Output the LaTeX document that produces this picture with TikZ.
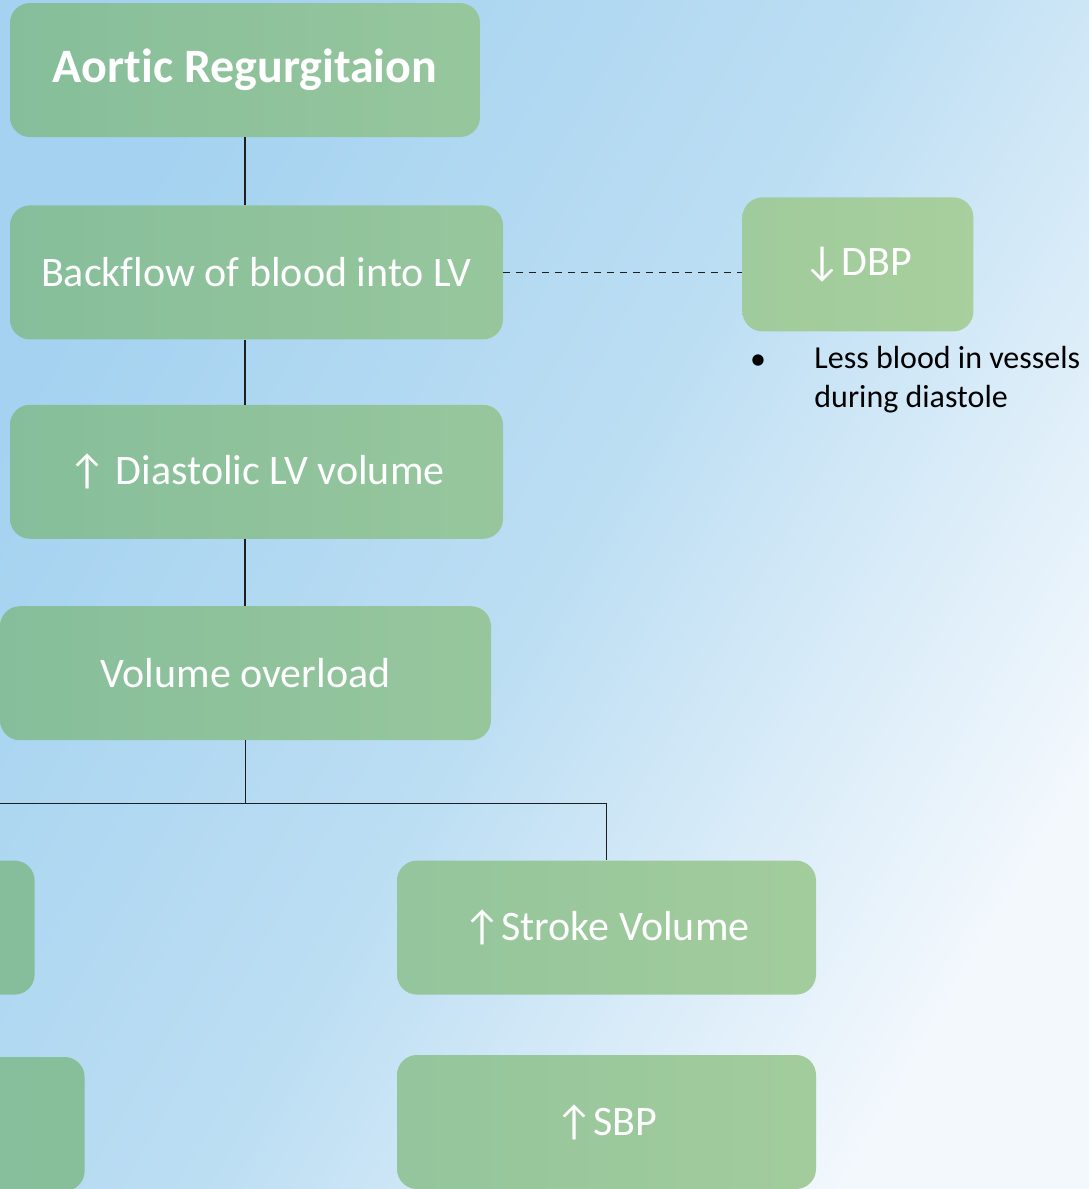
\documentclass[tikz,border=0pt]{standalone}
\usepackage{fontspec}
\setmainfont[Ligatures=NoCommon]{Carlito}
\usetikzlibrary{positioning,calc}

\definecolor{bgA}{RGB}{164,210,240}
\definecolor{bgM}{RGB}{188,222,243}
\definecolor{bgB}{RGB}{243,248,253}
\definecolor{greenA}{RGB}{134,190,155}
\definecolor{greenB}{RGB}{172,209,157}
\definecolor{linkgray}{RGB}{30,30,30}

\begin{document}
\begin{tikzpicture}[
    x=1pt, y=-1pt,
    box/.style={
        rectangle,
        rounded corners=20pt,
        minimum width=493pt,
        minimum height=134pt,
        inner sep=0pt,
        align=center,
        text=white,
        font=\fontsize{42}{50}\selectfont,
        left color=greenA,
        right color=greenB!45!greenA
    },
    rbox/.style={box, minimum width=419pt, left color=greenB!36!greenA, right color=greenB!75!greenA},
    note/.style={inner sep=0pt, align=left, font=\fontsize{32}{39}\selectfont},
    link/.style={draw=linkgray, line width=1.3pt},
    dashlink/.style={link, line width=1.8pt, dash pattern=on 7pt off 6pt}
]

    % --- BACKGROUND ---
    \useasboundingbox (0,0) rectangle (1089,1189);
    \clip (0,0) rectangle (1089,1189);
    \shade[top color=bgA, bottom color=bgB, middle color=bgM, shading angle=60] (0,0) rectangle (1089,1189);

    % --- MAIN CHAIN ---
    \node[box, minimum width=470pt, font=\fontsize{48}{56}\selectfont\bfseries, right color=greenB!44!greenA] (title) at (245,70) {Aortic Regurgitaion};
    \node[box, below right=68pt and 0pt of title.south west] (back) {Backflow of blood into LV};
    \node[box, below=65pt of back] (diast) {↑ Diastolic LV volume};
    \node[box, minimum width=491pt, below right=67pt and -10pt of diast.south west] (volov) {Volume overload};

    % --- SPLIT BELOW OVERLOAD ---
    \node[box, minimum width=419pt, right color=greenA, below left=120pt and -35pt of volov.south west] (lbox1) {};
    \node[box, minimum width=419pt, right color=greenB!3!greenA, below right=62pt and 50pt of lbox1.south west] (lbox2) {};
    \node[rbox, below right=120pt and 397pt of volov.south west] (stroke) {↑Stroke Volume};
    \node[rbox, below=60pt of stroke] (sbp) {↑SBP};

    % --- DIASTOLIC PRESSURE SIDE ---
    \node[box, minimum width=231pt, left color=greenB!68!greenA, right color=greenB!89!greenA, right=239pt of back, yshift=8pt] (dbp) {↓DBP};
    \node[note, below right=14pt and 72pt of dbp.south west] (less) {Less blood in vessels\\during diastole};
    \node[note, anchor=base] (bul) at ($(less.north west)+(-56,24)$) {•};

    % --- CONNECTIONS ---
    \draw[link] (title.south) -- (title.south |- back.north);
    \draw[link] (title.south |- back.south) -- (title.south |- diast.north);
    \draw[link] (title.south |- diast.south) -- (title.south |- volov.north);
    \draw[link] (volov.south) -- ++(0,63) -| (stroke.north);
    \draw[link] (volov.south) -- ++(0,63) -| (lbox1.north);
    \draw[dashlink] (back.east) -- (back.east -| dbp.west);

\end{tikzpicture}
\end{document}
